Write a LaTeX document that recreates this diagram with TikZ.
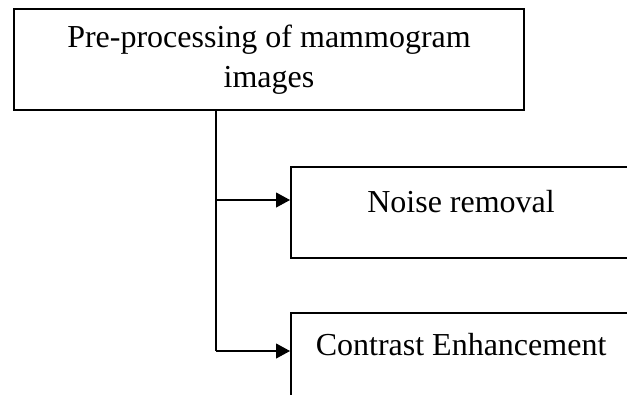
\documentclass[tikz,border=0pt]{standalone}
\usepackage{fontspec}
\setmainfont{Liberation Serif}
\usetikzlibrary{arrows.meta}
\begin{document}
\begin{tikzpicture}[x=0.75pt,y=-0.75pt,
  boxnode/.style={draw=black,line width=1.6pt,inner sep=0pt,
    font=\fontsize{24pt}{30pt}\selectfont},
  conn/.style={draw=black,line width=0.8pt},
  arr/.style={conn,-{Triangle[length=10.5pt,width=11.25pt]}}]
\useasboundingbox (0,0) rectangle (627,394);
\clip (0,0) rectangle (627,394);
\fill[white] (0,0) rectangle (627,394);
\node[boxnode,align=center,minimum width=382.5pt,minimum height=75.75pt]
  (pre) at (269,59.5) {Pre-processing of mammogram\\images};
\node[boxnode,minimum width=255pt,text height=33.75pt,text depth=34.5pt,anchor=base west]
  (noise) at (290,212) {Noise removal};
\node[boxnode,minimum width=255pt,text height=31.5pt,text depth=45pt,anchor=base west]
  (ce) at (290,355) {Contrast Enhancement};
\coordinate (a1) at (216,200);
\coordinate (a2) at (216,351);
\draw[conn] (pre.south -| a1) -- (a2);
\draw[arr] (a1) -- (a1 -| noise.west);
\draw[arr] (a2) -- (a2 -| ce.west);
\end{tikzpicture}
\end{document}
